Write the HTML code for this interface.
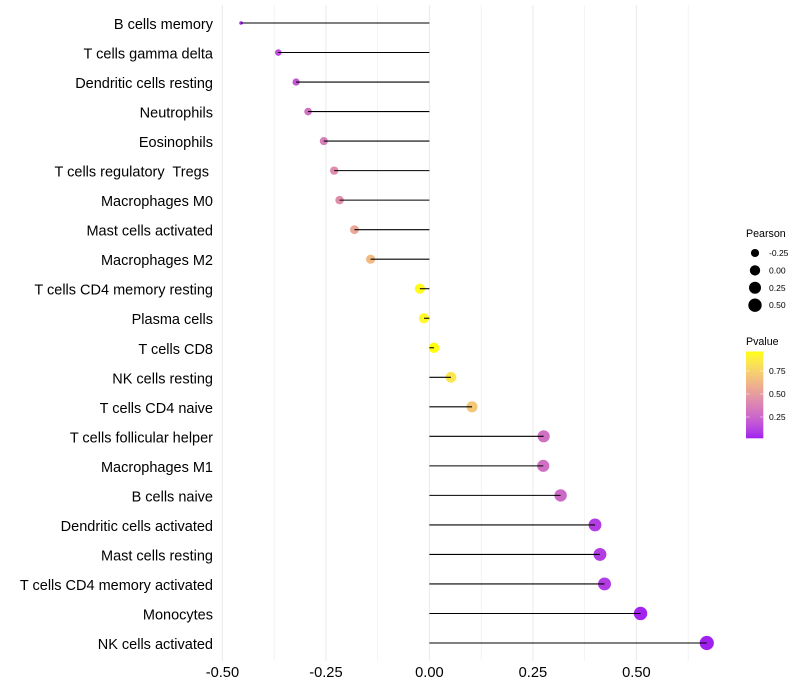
<!DOCTYPE html>
<html>
<head>
<meta charset="utf-8">
<style>
html,body{margin:0;padding:0;background:#fff;}
svg{display:block;font-family:"Liberation Sans",sans-serif;}
text{white-space:pre;}
</style>
</head>
<body>
<svg id="chart" width="800" height="700" viewBox="0 0 800 700" xmlns="http://www.w3.org/2000/svg">
  <g id="grid"></g>
  <g id="stems"></g>
  <g id="dots"></g>
  <g id="stemsTop"></g>
  <g id="ylabels"></g>
  <g id="xlabels"></g>
  <g id="sizeLegend">
    <text x="746" y="237" font-size="10.67" fill="#000">Pearson</text>
  </g>
  <g id="colorLegend">
    <text x="746" y="345" font-size="10.67" fill="#000">Pvalue</text>
  </g>
</svg>
<script>
const categories = ["B cells memory","T cells gamma delta","Dendritic cells resting","Neutrophils","Eosinophils","T cells regulatory  Tregs ","Macrophages M0","Mast cells activated","Macrophages M2","T cells CD4 memory resting","Plasma cells","T cells CD8","NK cells resting","T cells CD4 naive","T cells follicular helper","Macrophages M1","B cells naive","Dendritic cells activated","Mast cells resting","T cells CD4 memory activated","Monocytes","NK cells activated"];
const pearson = [-0.455,-0.365,-0.322,-0.293,-0.255,-0.23,-0.217,-0.181,-0.142,-0.023,-0.013,0.011,0.052,0.103,0.276,0.275,0.317,0.40,0.412,0.423,0.51,0.67];
const pvalue = [0.04,0.16,0.2,0.3,0.36,0.42,0.43,0.55,0.64,0.95,0.93,0.96,0.85,0.7,0.3,0.3,0.27,0.1,0.1,0.1,0.03,0.02];
const xTicks = [-0.5,-0.25,0,0.25,0.5];
const xTickLabels = ["-0.50","-0.25","0.00","0.25","0.50"];
const xMinorTicks = [-0.375,-0.125,0.125,0.375,0.625];
const sizeLegendValues = [-0.25,0,0.25,0.5];
const sizeLegendLabels = ["-0.25","0.00","0.25","0.50"];
const colorLegendValues = [0.25,0.5,0.75];
const colorLegendLabels = ["0.25","0.50","0.75"];

const NS = "http://www.w3.org/2000/svg";
function mk(parent, tag, attrs, txt){
  const e = document.createElementNS(NS, tag);
  for (const k in attrs) e.setAttribute(k, attrs[k]);
  if (txt !== undefined) e.textContent = txt;
  parent.appendChild(e);
  return e;
}
const $ = id => document.getElementById(id);

/* axis functions */
const xScale = v => 429.4 + v * 414;
const yScale = i => 23 + i * (620 / (categories.length - 1));
const pMin = 0.02, pMax = 0.967;
const pBarY = p => 417 - (p - 0.25) * 92;
const sMin = -0.455, sMax = 0.67;
const radius = v => 1.8 + 5.3 * Math.sqrt(Math.max(0, (v - sMin) / (sMax - sMin)));

/* Lab gradient purple to yellow */
function toLab(r,g,b){
  const f = c => { c/=255; return c>0.04045?Math.pow((c+0.055)/1.055,2.4):c/12.92; };
  const R=f(r),G=f(g),B=f(b);
  const X=(0.4124*R+0.3576*G+0.1805*B)/0.95047,Y=0.2126*R+0.7152*G+0.0722*B,Z=(0.0193*R+0.1192*G+0.9505*B)/1.08883;
  const h=t=>t>0.008856?Math.cbrt(t):7.787*t+16/116;
  return [116*h(Y)-16,500*(h(X)-h(Y)),200*(h(Y)-h(Z))];
}
function fromLab(L,a,b){
  const fy=(L+16)/116,fx=a/500+fy,fz=fy-b/200;
  const h=t=>t*t*t>0.008856?t*t*t:(t-16/116)/7.787;
  const X=h(fx)*0.95047,Y=h(fy),Z=h(fz)*1.08883;
  const g=c=>{c=Math.max(0,Math.min(1,c));return Math.round(255*(c>0.0031308?1.055*Math.pow(c,1/2.4)-0.055:12.92*c));};
  return `rgb(${g(3.2406*X-1.5372*Y-0.4986*Z)},${g(-0.9689*X+1.8758*Y+0.0415*Z)},${g(0.0557*X-0.204*Y+1.057*Z)})`;
}
const labLow = toLab(160,32,240), labHigh = toLab(255,255,0);
function colorOf(p){
  const t = Math.max(0, Math.min(1, (p - pMin) / (pMax - pMin)));
  return fromLab(labLow[0]+(labHigh[0]-labLow[0])*t, labLow[1]+(labHigh[1]-labLow[1])*t, labLow[2]+(labHigh[2]-labLow[2])*t);
}

/* grid */
xMinorTicks.forEach(v => {
  const l = mk($("grid"), "line", {x1:xScale(v),x2:xScale(v),y1:5,y2:661,stroke:"#ebebeb","stroke-width":0.55});
  
  
});
xTicks.forEach((v,i) => {
  const l = mk($("grid"), "line", {x1:xScale(v),x2:xScale(v),y1:5,y2:661,stroke:"#ebebeb","stroke-width":1.07});
  
  
  const t = mk($("xlabels"), "text", {x:xScale(v),y:677,"text-anchor":"middle","font-size":14.67,fill:"#000"}, xTickLabels[i]);
  
  
});

/* marks */
categories.forEach((c,i) => {
  const y = yScale(i), x = xScale(pearson[i]);
  const lab = mk($("ylabels"), "text", {x:213,y:y+6,"text-anchor":"end","font-size":14.5,fill:"#000"}, c);
  
  
  const dot = mk($("dots"), "circle", {cx:x,cy:y,r:radius(pearson[i]),fill:colorOf(pvalue[i])});
  
  
  const stem = mk($("stemsTop"), "line", {x1:xScale(0),x2:x,y1:y,y2:y,stroke:"#000","stroke-width":1.07});
  
  
});

/* size legend */
sizeLegendValues.forEach((v,i) => {
  const y = 253 + i * 17.4;
  const d = mk($("sizeLegend"), "circle", {cx:755,cy:y,r:radius(v),fill:"#000"});
  
  
  const t = mk($("sizeLegend"), "text", {x:769,y:y+3,"font-size":8.53,fill:"#000"}, sizeLegendLabels[i]);
  
  
});

/* colour bar */
const barTop = 351.5, barBottom = 438, barSteps = 87;
for (let k = 0; k < barSteps; k++){
  const y = barTop + k * (barBottom - barTop) / barSteps;
  const p = pMax - (k + 0.5) / barSteps * (pMax - pMin);
  const r = mk($("colorLegend"), "rect", {x:746,y:y,width:17.3,height:(barBottom-barTop)/barSteps+0.3,fill:colorOf(p)});
  
  
}
colorLegendValues.forEach((v,i) => {
  const y = pBarY(v);
  [[746,749.5],[759.8,763.3]].forEach(s => {
    const m = mk($("colorLegend"), "line", {x1:s[0],x2:s[1],y1:y,y2:y,stroke:"#fff","stroke-width":0.5});
    
    
  });
  const t = mk($("colorLegend"), "text", {x:769,y:y+3,"font-size":8.53,fill:"#000"}, colorLegendLabels[i]);
  
  
});
</script>
</body>
</html>
